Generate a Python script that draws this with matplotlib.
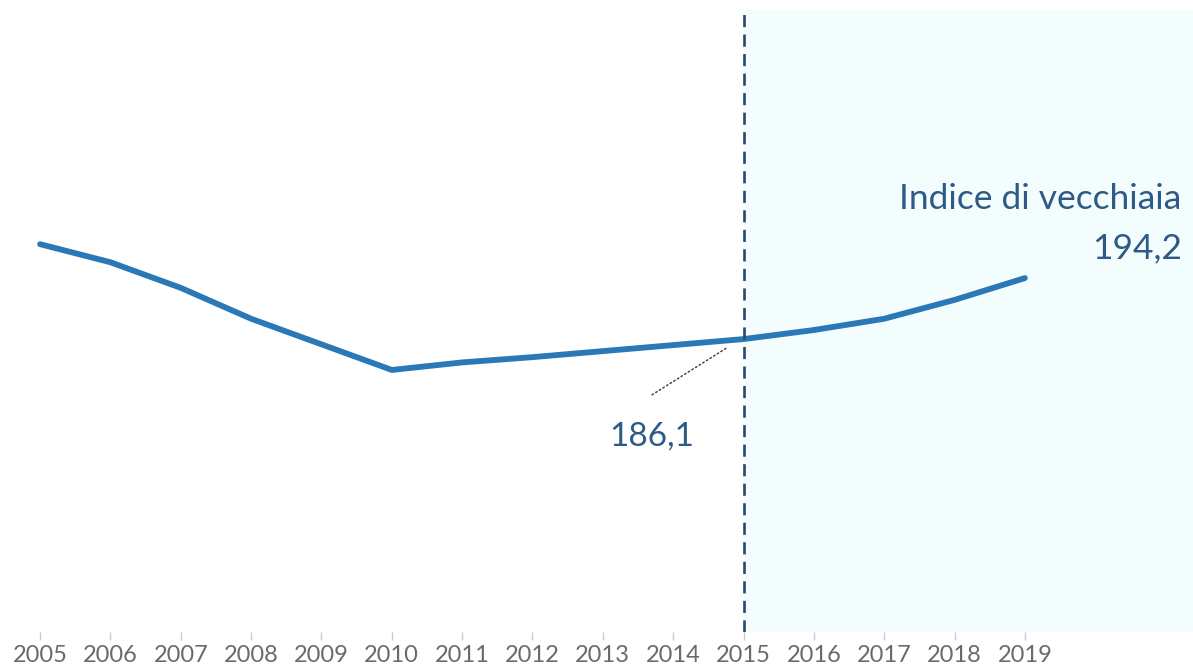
import matplotlib
matplotlib.use('Agg')
import matplotlib.pyplot as plt

plt.rcParams['font.family'] = ['Lato', 'DejaVu Sans']

# dati
anni = [2005, 2006, 2007, 2008, 2009, 2010, 2011, 2012, 2013, 2014, 2015, 2016, 2017, 2018, 2019]
indice = [198.7, 196.3, 192.9, 188.8, 185.4, 182.0, 183.0, 183.7, 184.5, 185.3, 186.1, 187.3, 188.8, 191.3, 194.2]
anno_rif = 2015
etichetta_rif = '186,1'
titolo = 'Indice di vecchiaia'
etichetta_fin = '194,2'

col_linea = '#2A78B5'
col_testo = '#2D5A86'
col_tratt = '#26496E'

fig = plt.figure(figsize=(11.93, 6.71), dpi=100)
ax = fig.add_axes([0, 39 / 671, 1, 622 / 671])

ax.set_xlim(2004.43, 2021.39)
ax.set_ylim(147.2, 229.8)

# zona ombreggiata dopo il 2015
ax.axvspan(anno_rif, 2021.39, color='#F4FDFE', zorder=0, lw=0)
ax.axvline(anno_rif, color=col_tratt, lw=1.9, dashes=(4.6, 2.8), zorder=3)

ax.plot(anni, indice, color=col_linea, lw=4.2, solid_capstyle='round', zorder=2)

# etichetta 2015 con linea puntinata
ax.annotate('', xy=(2014.78, 185.04), xytext=(2013.70, 178.7),
            arrowprops=dict(arrowstyle='-', linestyle=(0, (1, 1.8)), color='#444444',
                            lw=1.1, shrinkA=0, shrinkB=0))
ax.text(2013.70, 173.1, etichetta_rif, ha='center', va='center', fontsize=24, color=col_testo)

ax.text(2021.23, 204.7, titolo, ha='right', va='center', fontsize=25.5, color=col_testo)
ax.text(2021.23, 198.2, etichetta_fin, ha='right', va='center', fontsize=25.5, color=col_testo)

ax.set_xticks(anni)
ax.set_xticklabels([str(a) for a in anni])
ax.set_yticks([])
ax.tick_params(axis='x', length=6, width=1, color='#CCCCCC', labelsize=17,
               labelcolor='#6A6A6A', pad=3)
for s in ax.spines.values():
    s.set_visible(False)

fig.savefig('out.png', dpi=100)
